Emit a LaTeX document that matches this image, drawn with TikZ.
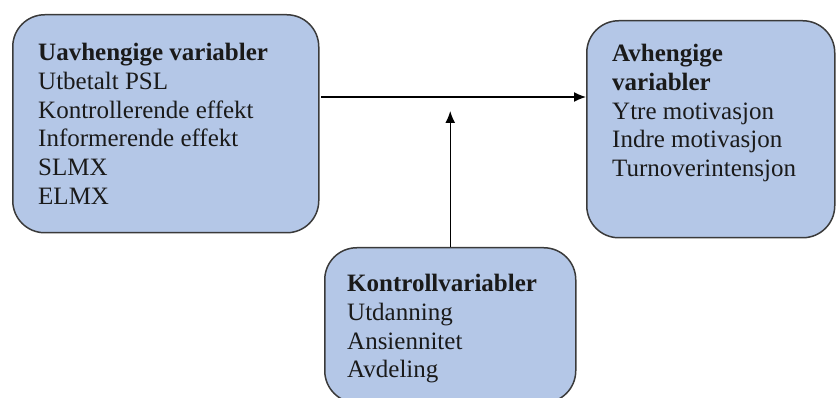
\documentclass[tikz,border=0pt]{standalone}
\usepackage{fontspec}
\setmainfont{Liberation Serif}
\usetikzlibrary{arrows.meta}
\definecolor{boxfill}{HTML}{B4C7E7}
\definecolor{boxline}{HTML}{3A3A3A}
\definecolor{txt}{HTML}{1A1A1A}
\begin{document}
\begin{tikzpicture}[x=1pt,y=-1pt,
  varbox/.style={draw=boxline,fill=boxfill,line width=1.5pt,rounded corners=32pt,anchor=north west,inner sep=0pt},
  boxtext/.style={anchor=north west,align=left,inner sep=0pt,text=txt,font=\fontsize{25}{28.75}\selectfont},
  conn/.style={draw=black,line width=1.4pt,-{Latex[length=12pt,width=10pt]}}]
\useasboundingbox (0,0) rectangle (836,398);
\node[varbox,minimum width=306pt,minimum height=218pt] (L) at (12,14) {};
\node[varbox,minimum width=248pt,minimum height=217pt] (R) at (586,20) {};
\node[varbox,minimum width=251pt,minimum height=155pt] (B) at (324,247) {};
\node[boxtext] (Lt) at (38,43) {\textbf{Uavhengige variabler}\\Utbetalt PSL\\Kontrollerende effekt\\Informerende effekt\\SLMX\\ELMX};
\node[boxtext] (Rt) at (612,44) {\textbf{Avhengige}\\\textbf{variabler}\\Ytre motivasjon\\Indre motivasjon\\Turnoverintensjon};
\node[boxtext] (Bt) at (347,274) {\textbf{Kontrollvariabler}\\Utdanning\\Ansiennitet\\Avdeling};
\coordinate (hstart) at (321,97);
\coordinate (mid) at (B.north |- 0,111);
\draw[conn] (hstart) -- (R.west |- hstart);
\draw[conn] (B.north) -- (mid);
\end{tikzpicture}
\end{document}
